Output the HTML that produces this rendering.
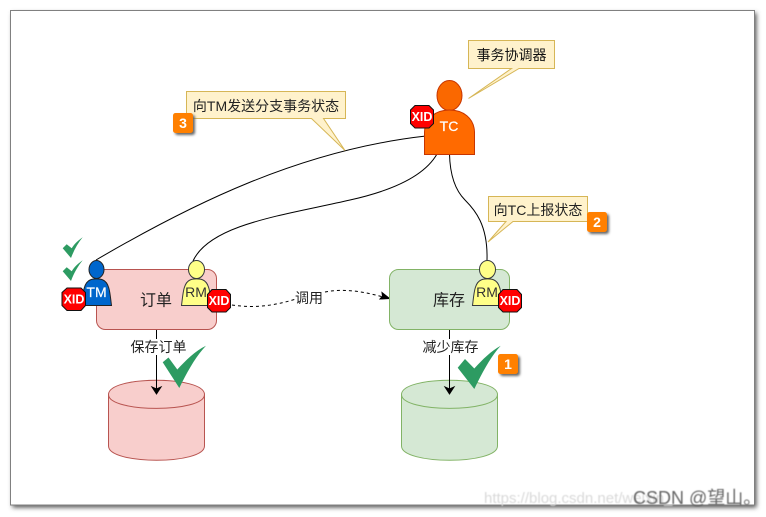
<!DOCTYPE html>
<html>
<head>
<meta charset="utf-8">
<style>
html,body{margin:0;padding:0;background:#fff;width:766px;height:517px;overflow:hidden}
svg{display:block}
text{font-family:"Liberation Sans","Noto Sans CJK SC",sans-serif}
</style>
</head>
<body>
<svg width="766" height="517" viewBox="0 0 766 517" xmlns="http://www.w3.org/2000/svg">
<defs>
<filter id="fs" x="-5%" y="-5%" width="110%" height="110%"><feGaussianBlur stdDeviation="2.5"/></filter>
<filter id="bs" x="-30%" y="-30%" width="160%" height="160%"><feGaussianBlur stdDeviation="1.3"/></filter>
<filter id="wm" x="-5%" y="-20%" width="110%" height="140%"><feGaussianBlur stdDeviation="0.4"/></filter>
</defs>

<!-- frame -->
<rect x="12.5" y="13" width="744" height="494.5" fill="#555" filter="url(#fs)"/>
<rect x="10.5" y="10.5" width="744" height="494.5" fill="#fff" stroke="#808080" stroke-width="1"/>

<!-- connectors -->
<g fill="none" stroke="#000" stroke-width="1">
<path d="M96 260 C190 205 300 150 426 136"/>
<path d="M193 261 C210 224 285 215 350 200 C395 190 425 175 437 154"/>
<path d="M487 260 C488 225 475 210 465 200 C455 190 450 175 449.500 154"/>
<path d="M232 305 C258 309 280 304 296 299 M325 292 C345 288 365 292 383 297" stroke-dasharray="3 3"/>
</g>
<polygon points="389.500,298.500 380,299 382.500,296 382,292.500" fill="#000" stroke="#000"/>

<!-- order box -->
<rect x="96.500" y="269.500" width="120" height="60" rx="9" fill="#f8cecc" stroke="#b85450"/>
<text x="156" y="305.500" font-size="16" fill="#222" text-anchor="middle">订单</text>
<!-- stock box -->
<rect x="389.500" y="269.500" width="120" height="60" rx="9" fill="#d5e8d4" stroke="#82b366"/>
<text x="449" y="305.500" font-size="16" fill="#222" text-anchor="middle">库存</text>

<!-- cylinders -->
<g fill="#f8cecc" stroke="#b85450">
<path d="M108.500 394.500C108.500 375.500 204.500 375.500 204.500 394.500V446C204.500 465 108.500 465 108.500 446Z"/>
<path d="M108.500 394.500C108.500 413 204.500 413 204.500 394.500" fill="none"/>
</g>
<g fill="#d5e8d4" stroke="#82b366">
<path d="M401.500 394.500C401.500 375.500 497.500 375.500 497.500 394.500V446C497.500 465 401.500 465 401.500 446Z"/>
<path d="M401.500 394.500C401.500 413 497.500 413 497.500 394.500" fill="none"/>
</g>
<!-- vertical arrows -->
<path d="M156.500 330V389M449.500 330V389" stroke="#000" fill="none"/>
<polygon points="156.500,394 152,387 156.500,389 161,387" fill="#000" stroke="#000"/>
<polygon points="449.500,394 445,387 449.500,389 454,387" fill="#000" stroke="#000"/>

<!-- edge labels -->
<rect x="130" y="339" width="57" height="16" fill="#fff"/>
<text x="158.500" y="352" font-size="14" fill="#222" text-anchor="middle">保存订单</text>
<rect x="422" y="339" width="57" height="16" fill="#fff"/>
<text x="450.500" y="352" font-size="14" fill="#222" text-anchor="middle">减少库存</text>
<text x="309" y="303" font-size="14" fill="#222" text-anchor="middle">调用</text>

<!-- checks -->
<g fill="#2d9b62">
<path d="M162.700 362.300L168.500 357.500L177.300 369.500C186 360 195 351 206 345.700C196 356 187 372 179.300 388Z"/>
<path d="M457.700 367.700L465 359L474.300 368.500C483 359 491 351 500.700 345.700C491 356 482 373 474.300 389Z"/>
<path d="M62.700 248.300L66.700 244.300L71.700 248.300C75 243 79 240 82.700 237.300C78 243 74 250 71 258Z"/>
<path d="M62.700 271.300L66.700 267.300L71.700 271.300C75 266 79 263 82.700 260.300C78 266 74 273 71 281Z"/>
</g>

<!-- TM actor -->
<ellipse cx="96.500" cy="269.500" rx="7.500" ry="9" fill="#0066cc" stroke="#222"/>
<path d="M82 305.500C83 295 83 283 90 280C93 278.500 100 278.500 103 280C110 283 110 295 111.500 305.500Z" fill="#0066cc" stroke="#222"/>
<text x="96.500" y="297" font-size="14" fill="#fff" stroke="#fff" stroke-width="0.200" text-anchor="middle">TM</text>
<!-- RM left -->
<ellipse cx="196.500" cy="269.500" rx="8" ry="9" fill="#ffff88" stroke="#36393d"/>
<path d="M181.500 305.500C183 295 183 283 190 280C193 278.500 200 278.500 203 280C210 283 210 295 211.500 305.500Z" fill="#ffff88" stroke="#36393d"/>
<text x="196" y="297" font-size="14" fill="#333" text-anchor="middle">RM</text>
<!-- RM right -->
<ellipse cx="487.500" cy="269.500" rx="8" ry="9" fill="#ffff88" stroke="#36393d"/>
<path d="M472.500 305.500C474 295 474 283 481 280C484 278.500 491 278.500 494 280C501 283 501 295 502.500 305.500Z" fill="#ffff88" stroke="#36393d"/>
<text x="487" y="297" font-size="14" fill="#333" text-anchor="middle">RM</text>
<!-- TC -->
<ellipse cx="449.500" cy="95.500" rx="12.500" ry="15" fill="#fa6800" stroke="#c73500"/>
<path d="M424.500 154.500V132C425 118 436 110 449.500 110C463 110 474 118 474.500 132V154.500Z" fill="#ff6a00" stroke="#c73500"/>
<text x="449" y="131" font-size="14" fill="#fff" stroke="#fff" stroke-width="0.200" text-anchor="middle">TC</text>

<!-- XID octagons -->
<g fill="#ff0000" stroke="#111" stroke-width="1">
<polygon points="67,288 81,288 85.500,292.500 85.500,305.500 81,310.500 67,310.500 62,305.500 62,292.500"/>
<polygon points="212,289.500 226,289.500 230.500,294.500 230.500,307.500 226,312 212,312 207.500,307.500 207.500,294.500"/>
<polygon points="503,289.500 517,289.500 521.500,294.500 521.500,307.500 517,312 503,312 498.500,307.500 498.500,294.500"/>
<polygon points="415,105.500 429,105.500 433.500,110 433.500,123.500 429,128 415,128 410.500,123.500 410.500,110"/>
</g>
<g font-size="12.500" font-weight="bold" fill="#fff" text-anchor="middle">
<text x="74" y="303.500">XID</text>
<text x="219" y="305">XID</text>
<text x="510" y="305">XID</text>
<text x="422" y="121">XID</text>
</g>

<!-- callouts -->
<g fill="#fff2cc" stroke="#d6b656">
<path d="M468.500 40.500H554.500V68.500H519L468.500 98.500L511.500 68.500H468.500Z"/>
<path d="M186.500 91.500H345.500V118.500H323.500L345 150.500L311.500 118.500H186.500Z"/>
<path d="M488.500 196.500H587.500V221.500H513L488 242L506 221.500H488.500Z"/>
</g>
<text x="511.500" y="60" font-size="14" fill="#111" text-anchor="middle">事务协调器</text>
<text x="266" y="111" font-size="14" fill="#222" text-anchor="middle">向TM发送分支事务状态</text>
<text x="538" y="215" font-size="14" fill="#222" text-anchor="middle">向TC上报状态</text>

<!-- badges -->
<g>
<rect x="175" y="115" width="20" height="20" rx="2.500" fill="#666" filter="url(#bs)"/>
<rect x="500" y="356" width="20" height="20" rx="2.500" fill="#666" filter="url(#bs)"/>
<rect x="589" y="214" width="20" height="20" rx="2.500" fill="#666" filter="url(#bs)"/>
<rect x="173" y="113" width="20" height="20" rx="2.500" fill="#ff8000"/>
<rect x="498" y="354" width="20" height="20" rx="2.500" fill="#ff8000"/>
<rect x="587" y="212" width="20" height="20" rx="2.500" fill="#ff8000"/>
</g>
<g font-size="14" font-weight="bold" fill="#fff" text-anchor="middle">
<text x="183" y="128">3</text>
<text x="508" y="369">1</text>
<text x="597" y="227">2</text>
</g>

<!-- watermark -->
<text x="484" y="503" font-size="15" fill="#d9d9d9" filter="url(#wm)">https://blog.csdn.net/weixin_</text>
<text x="633" y="504" font-size="18" fill="#666" filter="url(#wm)">CSDN @望山。</text>
</svg>
</body>
</html>
